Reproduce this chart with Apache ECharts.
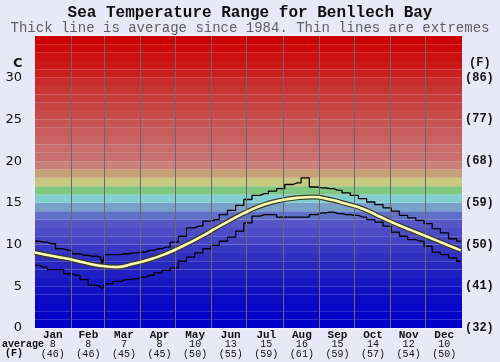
<!DOCTYPE html>
<html>
<head>
<meta charset="utf-8">
<script src="https://cdn.jsdelivr.net/npm/echarts@6/dist/echarts.min.js"></script>
<style>
  html, body { margin: 0; padding: 0; background: #e8e8f8; }
  #main { width: 500px; height: 362px; }
</style>
</head>
<body>
<div id="main"></div>
<script>
// month labels and monthly averages shown under the axis
const months = ['Jan', 'Feb', 'Mar', 'Apr', 'May', 'Jun', 'Jul', 'Aug', 'Sep', 'Oct', 'Nov', 'Dec'];
const monthAvgC = [8, 8, 7, 8, 10, 13, 15, 16, 15, 14, 12, 10];
const monthAvgF = [46, 46, 45, 45, 50, 55, 59, 61, 59, 57, 54, 50];
const monthStartDays = [31, 59, 90, 120, 151, 181, 212, 243, 273, 304, 334];

// extremes (day of year, deg C)
const extDays = [0, 7, 14, 21, 28, 35, 42, 49, 56, 59, 60, 63, 70, 77, 84, 91, 98, 105, 112, 119,
  126, 133, 140, 147, 154, 161, 168, 175, 182, 189, 196, 203, 210, 217, 224, 231, 238, 245, 252,
  259, 266, 273, 280, 287, 294, 301, 308, 315, 322, 329, 336, 343, 350, 357, 364];
const maxTemp = [10.4, 10.3, 10.1, 9.5, 9.3, 8.9, 8.7, 8.6, 8.5, 7.7, 8.8, 8.8, 8.8, 8.9, 9.0, 9.1,
  9.3, 9.5, 9.7, 10.3, 11.0, 12.0, 12.2, 12.8, 13.0, 13.6, 14.1, 14.7, 15.4, 15.9, 16.1, 16.4, 16.7,
  17.2, 17.4, 18.0, 16.9, 16.8, 16.7, 16.5, 16.2, 15.9, 15.5, 15.1, 14.8, 14.4, 14.0, 13.5, 13.2,
  12.9, 12.5, 11.9, 11.4, 10.7, 10.4];
const minTemp = [7.5, 7.3, 7.0, 7.0, 6.5, 6.3, 5.8, 5.1, 5.0, 4.7, 5.3, 5.3, 5.6, 5.8, 5.9, 6.1,
  6.3, 6.6, 6.9, 7.2, 8.0, 8.5, 9.0, 9.5, 9.9, 10.4, 10.9, 11.6, 12.6, 13.4, 13.6, 13.6, 13.3,
  13.3, 13.3, 13.3, 13.6, 13.8, 13.9, 13.7, 13.6, 13.5, 13.3, 13.0, 12.7, 12.2, 11.5, 11.0, 10.6,
  10.4, 9.8, 9.1, 8.8, 8.4, 8.0];

// long-term average
const avgDays = [0, 14, 28, 42, 56, 70, 84, 98, 112, 126, 140, 154, 168, 182, 196, 210, 224, 238,
  252, 266, 280, 294, 308, 322, 336, 350, 364];
const avgTemp = [9.05, 8.65, 8.3, 7.85, 7.45, 7.3, 7.7, 8.2, 8.9, 9.8, 10.8, 11.9, 13.0, 14.0, 14.8,
  15.3, 15.6, 15.7, 15.4, 14.9, 14.3, 13.4, 12.5, 11.7, 10.9, 10.1, 9.3];

// colour of each 1 degree band, 0..35
const bandColors = ['#0000c8', '#0303c8', '#0707c8', '#0b0bc6', '#1010c4', '#1818c2', '#2020c2',
  '#2828c0', '#3030c0', '#3838c2', '#4444c4', '#4c4cc6', '#5656c8', '#6070c8', '#78a0c8',
  '#80d0d0', '#80c880', '#c8c880', '#c8a078', '#c88078', '#c87070', '#c86c6c', '#c86464',
  '#c85c5c', '#c85454', '#c84c4c', '#c84444', '#c83c3c', '#c83434', '#c82c2c', '#cc2020',
  '#cc1818', '#cc1010', '#cc0808', '#cc0000'];

const pairs = (xs, ys) => xs.map((d, i) => [d, ys[i]]);

let myChart = echarts.init(document.getElementById('main'));

let option = {
  backgroundColor: '#e8e8f8',
  animation: false,
  title: [
    {
      text: 'Sea Temperature Range for Benllech Bay',
      left: 'center', top: 0,
      textStyle: { fontFamily: 'Liberation Mono', fontWeight: 'bold', fontSize: 16, color: '#111' }
    },
    {
      text: 'Thick line is average since 1984. Thin lines are extremes',
      left: 'center', top: 16,
      textStyle: { fontFamily: 'Liberation Mono', fontWeight: 'normal', fontSize: 14, color: '#606060' }
    }
  ],
  grid: { left: 35, right: 38, top: 36, bottom: 34 },
  xAxis: [
    { type: 'value', min: 0, max: 365, show: false },
    {
      type: 'category', data: months, position: 'bottom', boundaryGap: true,
      axisLine: { show: false }, axisTick: { show: false },
      axisLabel: {
        margin: 2, interval: 0,
        formatter: (v, i) => `{m|${v}}\n{c|${monthAvgC[i]}}\n{f|(${monthAvgF[i]})}`,
        rich: {
          m: { fontFamily: 'Liberation Mono', fontWeight: 'bold', fontSize: 11, color: '#111', lineHeight: 10 },
          c: { fontFamily: 'Liberation Mono', fontSize: 10, color: '#111', lineHeight: 9 },
          f: { fontFamily: 'Liberation Mono', fontSize: 10, color: '#111', lineHeight: 10 }
        }
      }
    }
  ],
  yAxis: [
    {
      type: 'value', min: 0, max: 35, interval: 5,
      axisLine: { show: false }, axisTick: { show: false },
      splitLine: { lineStyle: { color: '#f4f4f4', width: 1.5 } },
      axisLabel: {
        margin: 13, fontFamily: 'DejaVu Sans', fontSize: 13, color: '#111',
        formatter: v => (v === 35 ? '' : String(v))
      }
    },
    {
      type: 'value', min: 0, max: 35, interval: 5, position: 'right',
      axisLine: { show: false }, axisTick: { show: false }, splitLine: { show: false },
      axisLabel: {
        margin: 3, fontFamily: 'Liberation Mono', fontWeight: 'bold', fontSize: 12, color: '#111',
        formatter: v => (v === 35 ? '' : '(' + Math.round(v * 9 / 5 + 32) + ')')
      }
    }
  ],
  graphic: [
    { type: 'text', left: 13, top: 57, style: { text: 'C', font: 'bold 13px "DejaVu Sans"', fill: '#111' } },
    { type: 'text', left: 469, top: 57, style: { text: '(F)', font: 'bold 12px "Liberation Mono"', fill: '#111' } },
    { type: 'text', left: 2, top: 339, style: { text: 'average', font: 'bold 10px "Liberation Mono"', fill: '#111' } },
    { type: 'text', left: 5, top: 348, style: { text: '(F)', font: 'bold 10px "Liberation Mono"', fill: '#111' } }
  ],
  series: [
    {
      // colour bands behind the grid lines
      type: 'line', data: [], z: -1, silent: true,
      markArea: {
        silent: true,
        data: bandColors.map((c, i) => [{ yAxis: i, itemStyle: { color: c } }, { yAxis: i + 1 }])
      }
    },
    {
      name: 'max', type: 'line', step: 'middle', symbol: 'none', z: 3,
      data: pairs(extDays, maxTemp),
      lineStyle: { color: '#000', width: 1.3 },
      markLine: {
        silent: true, symbol: 'none', label: { show: false },
        lineStyle: { color: '#6a6a6a', width: 1, type: 'solid' },
        data: monthStartDays.map(d => ({ xAxis: d }))
      }
    },
    {
      name: 'min', type: 'line', step: 'middle', symbol: 'none', z: 3,
      data: pairs(extDays, minTemp),
      lineStyle: { color: '#000', width: 1.3 }
    },
    {
      name: 'avg edge', type: 'line', smooth: true, symbol: 'none', z: 4,
      data: pairs(avgDays, avgTemp),
      lineStyle: { color: '#3a3a20', width: 5 }
    },
    {
      name: 'average', type: 'line', smooth: true, symbol: 'none', z: 5,
      data: pairs(avgDays, avgTemp),
      lineStyle: { color: '#ffffb8', width: 2.6 }
    }
  ]
};

myChart.setOption(option);
</script>
</body>
</html>
